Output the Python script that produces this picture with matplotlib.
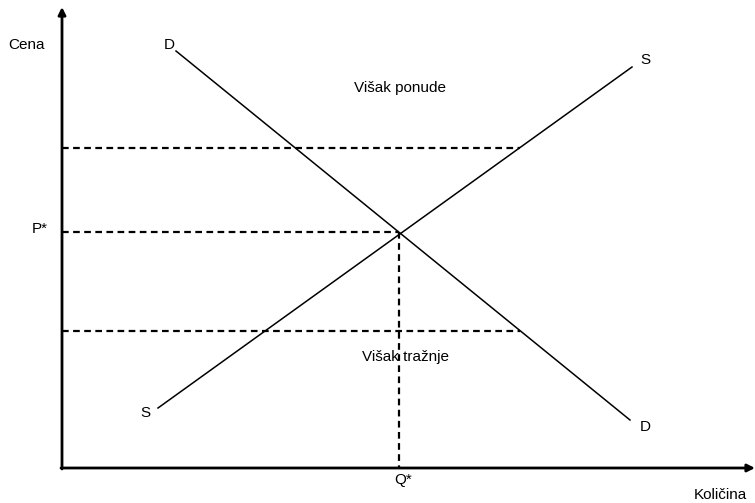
"""Supply and demand diagram: equilibrium, surplus and shortage."""

import matplotlib

matplotlib.use("Agg")
import matplotlib.pyplot as plt

plt.rcParams["font.family"] = ["Liberation Sans", "DejaVu Sans"]

# curve endpoints (quantity, price) in chart units
demand_q = [114, 568]
demand_p = [417, 48]
supply_q = [96, 570]
supply_p = [60, 401]

eq_q = 337
eq_p = 236
price_high = 320
price_low = 137
high_end_q = 458  # where the high price meets supply
low_end_q = 458   # where the low price meets demand

labels = {
    "Cena": (-35, 423),
    "Količina": (658, -27),
    "P*": (-22, 239),
    "Q*": (341, -12),
    "Višak ponude": (338, 380),
    "Višak tražnje": (343, 111),
}
curve_labels = [("D", 107, 423), ("S", 583, 408), ("S", 83, 55), ("D", 583, 41)]

fig = plt.figure(figsize=(7.55, 5.03), dpi=100)
ax = fig.add_axes([0, 0, 1, 1])
ax.set_xlim(-62, 693)
ax.set_ylim(-35, 468)
ax.axis("off")

# axes with arrow heads
arrow = dict(arrowstyle="-|>", lw=2, color="black", mutation_scale=11, shrinkA=0, shrinkB=0)
ax.annotate("", xy=(0, 461), xytext=(0, -1), arrowprops=arrow)
ax.annotate("", xy=(693, 0), xytext=(-1, 0), arrowprops=arrow)

ax.plot(demand_q, demand_p, color="black", lw=1.1)
ax.plot(supply_q, supply_p, color="black", lw=1.1)

dash = dict(color="black", lw=1.6, linestyle=(0, (3, 2)))
ax.plot([0, high_end_q], [price_high, price_high], **dash)
ax.plot([0, low_end_q], [price_low, price_low], **dash)
ax.plot([0, eq_q], [eq_p, eq_p], **dash)
ax.plot([eq_q, eq_q], [eq_p, 0], **dash)

for text, (x, y) in labels.items():
    ax.text(x, y, text, ha="center", va="center", fontsize=11)
for text, x, y in curve_labels:
    ax.text(x, y, text, ha="center", va="center", fontsize=11)

fig.savefig("out.png", dpi=100)
